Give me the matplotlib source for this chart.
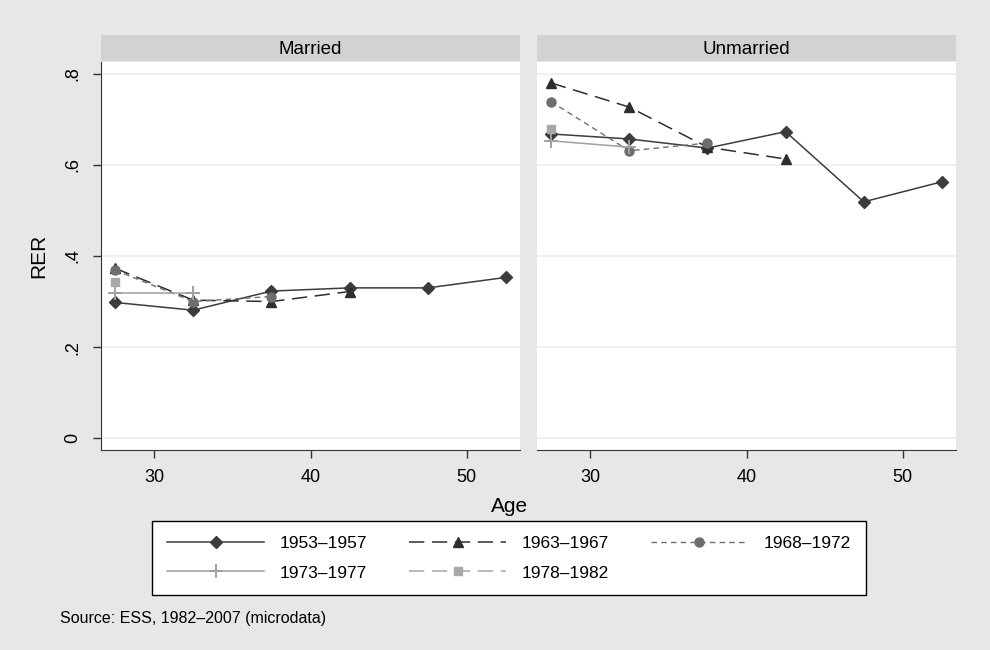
import matplotlib
matplotlib.use("Agg")
import matplotlib.pyplot as plt
import numpy as np

plt.rcParams['font.family'] = ['Liberation Sans', 'DejaVu Sans']

# age groups (midpoints)
age = [27.5, 32.5, 37.5, 42.5, 47.5, 52.5]

cohorts = ['1953–1957', '1963–1967', '1968–1972', '1973–1977', '1978–1982']

# RER by cohort, married
married_1953 = [0.298, 0.281, 0.323, 0.330, 0.330, 0.353]
married_1963 = [0.373, 0.303, 0.300, 0.322]
married_1968 = [0.369, 0.300, 0.311]
married_1973 = [0.319, 0.319]
married_1978 = [0.342]

# RER by cohort, unmarried
unmarried_1953 = [0.668, 0.657, 0.637, 0.673, 0.519, 0.563]
unmarried_1963 = [0.780, 0.727, 0.639, 0.613]
unmarried_1968 = [0.739, 0.631, 0.648]
unmarried_1973 = [0.653, 0.639]
unmarried_1978 = [0.678]

panels = ['Married', 'Unmarried']
data = {
    'Married': [married_1953, married_1963, married_1968, married_1973, married_1978],
    'Unmarried': [unmarried_1953, unmarried_1963, unmarried_1968, unmarried_1973, unmarried_1978],
}

styles = [
    dict(color='#3c3c3c', marker='D', ms=6, ls='-', lw=1.1),
    dict(color='#2e2e2e', marker='^', ms=7, ls=(0, (10, 5)), lw=1.1),
    dict(color='#6e6e6e', marker='o', ms=6.5, ls=(0, (4, 3)), lw=1.0),
    dict(color='#a0a0a0', marker='+', ms=10, mew=1.4, ls='-', lw=1.1),
    dict(color='#a8a8a8', marker='s', ms=6, ls=(0, (10, 5)), lw=1.1),
]

bg = '#e6e7e9'
strip = '#d1d2d4'

fig = plt.figure(figsize=(9.9, 6.5), dpi=100, facecolor=bg)

W, H = 990, 650
boxes = [(101, 520), (537, 956)]
top, bottom = 62, 450

handles = []
for i, (name, (x0, x1)) in enumerate(zip(panels, boxes)):
    ax = fig.add_axes([x0 / W, 1 - bottom / H, (x1 - x0) / W, (bottom - top) / H])
    ax.set_facecolor('white')
    for k, ys in enumerate(data[name]):
        h, = ax.plot(age[:len(ys)], ys, label=cohorts[k], **styles[k])
        if i == 0:
            handles.append(h)
    ax.set_xlim(26.6, 53.4)
    ax.set_ylim(-0.026, 0.826)
    ax.set_yticks([0, 0.2, 0.4, 0.6, 0.8])
    ax.set_xticks([30, 40, 50])
    ax.grid(axis='y', color='#ececec', lw=1.2)
    ax.set_axisbelow(True)
    for s in ['top', 'right']:
        ax.spines[s].set_visible(False)
    ax.spines['bottom'].set_color('#333333')
    ax.tick_params(axis='x', length=6, width=1, color='#333333', labelsize=13, pad=8)
    if i == 0:
        ax.spines['left'].set_color('#333333')
        ax.set_yticklabels(['0', '.2', '.4', '.6', '.8'], rotation=90, va='center')
        ax.tick_params(axis='y', length=6, width=1, color='#333333', labelsize=13, pad=8)
        ax.set_ylabel('RER', fontsize=15, labelpad=12)
    else:
        ax.spines['left'].set_visible(False)
        ax.tick_params(axis='y', left=False, labelleft=False)

    # panel header strip
    sax = fig.add_axes([x0 / W, 1 - 61 / H, (x1 - x0) / W, 26 / H])
    sax.set_facecolor(strip)
    sax.set_xticks([])
    sax.set_yticks([])
    for s in sax.spines.values():
        s.set_visible(False)
    sax.text(0.5, 0.45, name, ha='center', va='center', fontsize=13.5, transform=sax.transAxes)

fig.text(510 / W, 1 - 506 / H, 'Age', ha='center', va='center', fontsize=15)

order = [0, 3, 1, 4, 2]
leg = fig.legend([handles[k] for k in order], [cohorts[k] for k in order],
                 ncol=3, loc='center', bbox_to_anchor=(509 / W, 1 - 558 / H),
                 handlelength=5.6, fontsize=12.5, frameon=True, fancybox=False,
                 edgecolor='black', facecolor='white', framealpha=1,
                 columnspacing=2.4, handletextpad=0.9, borderpad=0.85, labelspacing=0.85)
leg.get_frame().set_linewidth(1.0)

fig.text(60 / W, 1 - 618 / H, 'Source: ESS, 1982–2007 (microdata)', ha='left', va='center', fontsize=11.5)

fig.savefig('out.png', dpi=100, facecolor=bg)
